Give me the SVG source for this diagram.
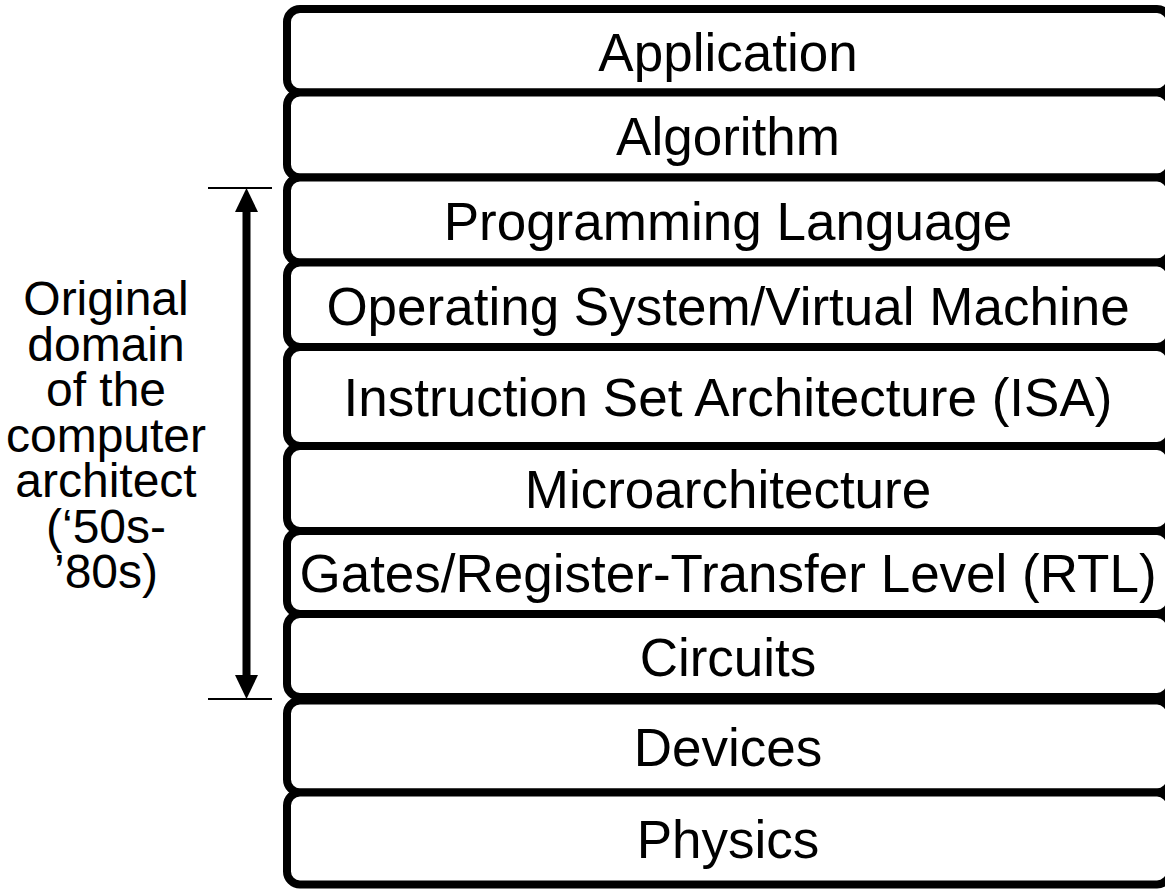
<svg xmlns="http://www.w3.org/2000/svg" width="1165" height="889" viewBox="0 0 1165 889">
<style>
.box rect{fill:#fff;stroke:#000;stroke-width:8}
.box text{font-family:"Liberation Sans",Arial,sans-serif;font-size:53px;fill:#000;text-anchor:middle}
.lbl{font-family:"Liberation Sans",Arial,sans-serif;font-size:48px;fill:#000;text-anchor:middle}
.tick{stroke:#000;stroke-width:2}
.arrow{stroke:#000;stroke-width:8;fill:none}
</style>
<defs>
<marker id="ah" markerUnits="userSpaceOnUse" markerWidth="24" markerHeight="23" refX="7" refY="11.5" orient="auto-start-reverse">
<path d="M0,0 L24,11.5 L0,23 z" fill="#000"/>
</marker>
</defs>
<rect width="1165" height="889" fill="#fff"/>
<g id="application" class="box"><rect x="287" y="9" width="883" height="83.5" rx="13"/><text x="728" y="71">Application</text></g>
<g id="algorithm" class="box"><rect x="287" y="92.5" width="883" height="85" rx="13"/><text x="728" y="155">Algorithm</text></g>
<g id="programming-language" class="box"><rect x="287" y="177.5" width="883" height="85" rx="13"/><text x="728" y="240">Programming Language</text></g>
<g id="os-vm" class="box"><rect x="287" y="262.5" width="883" height="84.5" rx="13"/><text x="728" y="325">Operating System/Virtual Machine</text></g>
<g id="isa" class="box"><rect x="287" y="347" width="883" height="99" rx="13"/><text x="728" y="416">Instruction Set Architecture (ISA)</text></g>
<g id="microarchitecture" class="box"><rect x="287" y="446" width="883" height="85" rx="13"/><text x="728" y="508">Microarchitecture</text></g>
<g id="gates-rtl" class="box"><rect x="287" y="531" width="883" height="83" rx="13"/><text x="728" y="592">Gates/Register-Transfer Level (RTL)</text></g>
<g id="circuits" class="box"><rect x="287" y="614" width="883" height="83" rx="13"/><text x="728" y="676">Circuits</text></g>
<g id="devices" class="box"><rect x="287" y="700.5" width="883" height="92" rx="13"/><text x="728" y="766">Devices</text></g>
<g id="physics" class="box"><rect x="287" y="792.5" width="883" height="92" rx="13"/><text x="728" y="858">Physics</text></g>
<g id="connectors">
<line class="tick" x1="208" y1="188" x2="272" y2="188"/>
<line class="tick" x1="208" y1="699" x2="272" y2="699"/>
<line class="arrow" x1="246.5" y1="205" x2="246.5" y2="682" marker-start="url(#ah)" marker-end="url(#ah)"/>
</g>
<g id="domain-label">
<text class="lbl" x="106"><tspan x="106" y="315">Original</tspan><tspan x="106" y="360.5">domain</tspan><tspan x="106" y="406">of the</tspan><tspan x="106" y="451.5">computer</tspan><tspan x="106" y="497">architect</tspan><tspan x="106" y="542.5">(‘50s-</tspan><tspan x="106" y="588">’80s)</tspan></text>
</g>
</svg>
